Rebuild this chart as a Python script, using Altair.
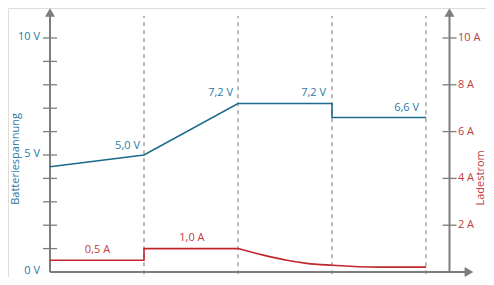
import altair as alt
import pandas as pd

# ---- data ----
volt_x = [0, 1, 2, 3, 3, 4]
volt_y = [4.5, 5.0, 7.2, 7.2, 6.6, 6.6]

curr_step_x = [0, 1, 1, 2]
curr_step_y = [0.5, 0.5, 1.0, 1.0]
curr_decay_x = [2, 2.27, 2.52, 2.73, 3.0, 3.5, 4.0]
curr_decay_y = [1.0, 0.72, 0.5, 0.37, 0.29, 0.21, 0.21]

phase_bounds = [1, 2, 3, 4]
left_ticks = [1, 2, 3, 4, 5, 6, 7, 8, 9, 10]
left_labels = {0: "0 V", 5: "5 V", 10: "10 V"}
right_ticks = [2, 4, 6, 8, 10]
right_labels = ["2 A", "4 A", "6 A", "8 A", "10 A"]

volt_annot_x = [0.957, 1.947, 2.936, 3.926]
volt_annot_y = [5.25, 7.5, 7.5, 6.9]
volt_annot_t = ["5,0 V", "7,2 V", "7,2 V", "6,6 V"]
curr_annot_x = [0.505, 1.51]
curr_annot_y = [0.8, 1.31]
curr_annot_t = ["0,5 A", "1,0 A"]

phase_label_x = [0.52, 1.52, 2.53, 3.48, 4.2]
phase_label_t = ["1", "2", "3", "4", "t"]

# ---- styling ----
FONT = "Open Sans"
AXC = "#7d7d7d"
BLUE = "#1c6a8c"
BLUE_T = "#2a7aa6"
RED = "#c0272d"
RED_T = "#c33a3c"
R_AXIS_X = 4.25

W, H = 478, 269
xs = alt.Scale(domain=[-0.4468, 4.6383], nice=False, zero=False, padding=0)
ys = alt.Scale(domain=[-0.2137, 11.282], nice=False, zero=False, padding=0)


def X(f, **kw):
    return alt.X(f, type="quantitative", scale=xs, axis=None, **kw)


def Y(f, **kw):
    return alt.Y(f, type="quantitative", scale=ys, axis=None, **kw)


# dashed phase boundaries
dash_df = pd.DataFrame({"x": phase_bounds, "y0": [-0.1] * 4, "y1": [10.94] * 4})
dashes = alt.Chart(dash_df).mark_rule(color="#8a8a8a", strokeDash=[4, 4], strokeWidth=1.2).encode(
    x=X("x"), y=Y("y0"), y2="y1")

# axis lines
ax_df = pd.DataFrame({
    "x": [0, R_AXIS_X, 0], "x2": [0, R_AXIS_X, 4.43],
    "y": [0, 0, 0], "y2": [10.94, 10.94, 0]})
axes = alt.Chart(ax_df).mark_rule(color=AXC, strokeWidth=2).encode(
    x=X("x"), x2="x2", y=Y("y"), y2="y2")

# ticks
lt_df = pd.DataFrame({"y": left_ticks, "x0": [-0.0745] * len(left_ticks), "x1": [0.0745] * len(left_ticks)})
lticks = alt.Chart(lt_df).mark_rule(color=AXC, strokeWidth=1.3).encode(
    x=X("x0"), x2="x1", y=Y("y"))
rt_df = pd.DataFrame({"y": right_ticks, "x0": [R_AXIS_X - 0.0745] * 5, "x1": [R_AXIS_X + 0.0745] * 5})
rticks = alt.Chart(rt_df).mark_rule(color=AXC, strokeWidth=1.3).encode(
    x=X("x0"), x2="x1", y=Y("y"))

# arrows
up_df = pd.DataFrame({"x": [0, R_AXIS_X], "y": [11.09, 11.09]})
up_arrows = alt.Chart(up_df).mark_point(shape="triangle-up", filled=True, size=100, color=AXC, opacity=1).encode(
    x=X("x"), y=Y("y"))
rt_arrow_df = pd.DataFrame({"x": [4.457], "y": [0]})
rt_arrow = alt.Chart(rt_arrow_df).mark_point(shape="triangle-right", filled=True, size=100, color=AXC, opacity=1).encode(
    x=X("x"), y=Y("y"))

# tick labels
ll_df = pd.DataFrame({"y": list(left_labels.keys()), "t": list(left_labels.values()), "x": [-0.106] * 3})
llabels = alt.Chart(ll_df).mark_text(align="right", baseline="middle", dy=-1, font=FONT, fontSize=11, color=BLUE_T).encode(
    x=X("x"), y=Y("y"), text="t:N")
rl_df = pd.DataFrame({"y": right_ticks, "t": right_labels, "x": [4.34] * 5})
rlabels = alt.Chart(rl_df).mark_text(align="left", baseline="middle", font=FONT, fontSize=11, color=RED_T).encode(
    x=X("x"), y=Y("y"), text="t:N")

# axis titles
lt_title = alt.Chart(pd.DataFrame({"x": [-0.362], "y": [4.83], "t": ["Batteriespannung"]})).mark_text(
    angle=270, align="center", baseline="middle", font=FONT, fontSize=11, color=BLUE_T).encode(
    x=X("x"), y=Y("y"), text="t:N")
rt_title = alt.Chart(pd.DataFrame({"x": [4.58], "y": [4.02], "t": ["Ladestrom"]})).mark_text(
    angle=270, align="center", baseline="middle", font=FONT, fontSize=11, color=RED_T).encode(
    x=X("x"), y=Y("y"), text="t:N")

# phase labels (cut at bottom edge, as in the reference)
pl_df = pd.DataFrame({"x": phase_label_x, "t": phase_label_t, "y": [-0.171] * len(phase_label_x)})
plabels = alt.Chart(pl_df).mark_text(align="center", baseline="top", font=FONT, fontSize=11, color="#666666").encode(
    x=X("x"), y=Y("y"), text="t:N")

# voltage line
v_df = pd.DataFrame({"x": volt_x, "y": volt_y, "o": list(range(len(volt_x)))})
vline = alt.Chart(v_df).mark_line(color=BLUE, strokeWidth=1.6).encode(
    x=X("x"), y=Y("y"), order="o:Q")

# current lines
cs_df = pd.DataFrame({"x": curr_step_x, "y": curr_step_y, "o": list(range(len(curr_step_x)))})
cstep = alt.Chart(cs_df).mark_line(color=RED, strokeWidth=1.6).encode(
    x=X("x"), y=Y("y"), order="o:Q")
cd_df = pd.DataFrame({"x": curr_decay_x, "y": curr_decay_y})
cdecay = alt.Chart(cd_df).mark_line(color=RED, strokeWidth=1.6, interpolate="monotone").encode(
    x=X("x"), y=Y("y"))

# annotations
va_df = pd.DataFrame({"x": volt_annot_x, "y": volt_annot_y, "t": volt_annot_t})
vann = alt.Chart(va_df).mark_text(align="right", baseline="alphabetic", font=FONT, fontSize=11, color=BLUE_T).encode(
    x=X("x"), y=Y("y"), text="t:N")
ca_df = pd.DataFrame({"x": curr_annot_x, "y": curr_annot_y, "t": curr_annot_t})
cann = alt.Chart(ca_df).mark_text(align="center", baseline="alphabetic", font=FONT, fontSize=11, color=RED_T).encode(
    x=X("x"), y=Y("y"), text="t:N")

chart = alt.layer(
    dashes, axes, lticks, rticks, up_arrows, rt_arrow, llabels, rlabels, lt_title, rt_title,
    plabels, vline, cstep, cdecay, vann, cann
).properties(
    width=W, height=H, autosize=alt.AutoSizeParams(type="none"), padding=0
).configure_view(stroke=None).configure(background="white")

chart.save("out.html", embed_options={"renderer": "svg", "actions": False})
